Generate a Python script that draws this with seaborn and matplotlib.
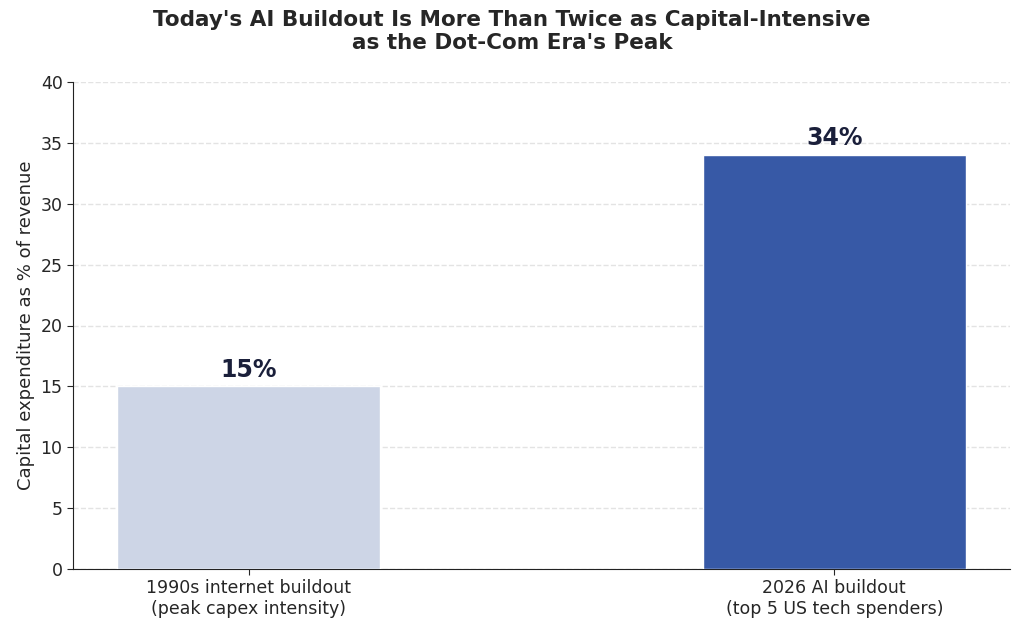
import matplotlib
matplotlib.use("Agg")
import matplotlib.pyplot as plt
import seaborn as sns
import pandas as pd

categories = ["1990s internet buildout\n(peak capex intensity)", "2026 AI buildout\n(top 5 US tech spenders)"]
values = [15, 34]
labels = ["15%", "34%"]
colors = ["#c9d3ea", "#2452b8"]

sns.set_style("white")
plt.rcParams['font.family'] = ['DejaVu Sans']
fig = plt.figure(figsize=(10.24, 6.34), dpi=100)
ax = fig.add_axes([73/1024, 1-569/634, 937/1024, 487/634])
df = pd.DataFrame({"cat": categories, "val": values})
sns.barplot(data=df, x="cat", y="val", hue="cat", palette=colors, width=0.45, ax=ax, legend=False, zorder=3)
for i, (v, l) in enumerate(zip(values, labels)):
    ax.text(i, v + 0.4, l, ha="center", va="bottom", fontsize=17, fontweight="bold", color="#1a1f3a")
ax.set_xlim(-0.3, 1.3)
ax.set_ylim(0, 40)
ax.set_yticks(range(0, 41, 5))
ax.yaxis.grid(True, linestyle="--", color="#e3e3e3", linewidth=1, zorder=0)
ax.set_axisbelow(True)
ax.set_xlabel("")
ax.set_ylabel("Capital expenditure as % of revenue", fontsize=13)
ax.tick_params(axis="both", labelsize=12.5, length=4, left=True, bottom=True)
for s in ["top", "right"]:
    ax.spines[s].set_visible(False)
for s in ["left", "bottom"]:
    ax.spines[s].set_color("#222222")
fig.suptitle("Today's AI Buildout Is More Than Twice as Capital-Intensive\nas the Dot-Com Era's Peak",
             fontsize=15.5, fontweight="bold", y=0.985)
fig.savefig("out.png", dpi=100)
